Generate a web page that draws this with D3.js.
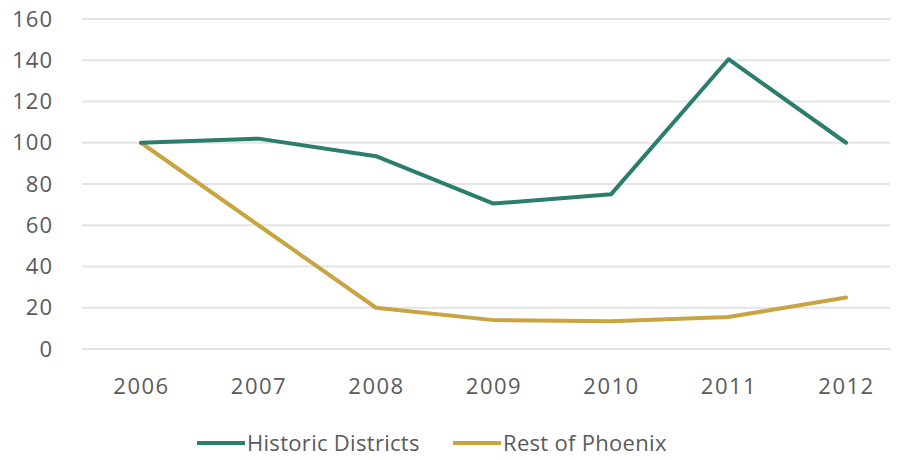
<!DOCTYPE html>
<html>
<head>
<meta charset="utf-8">
<script src="https://cdn.jsdelivr.net/npm/d3@7"></script>
<style>
  html, body { margin: 0; padding: 0; background: #fff; }
  svg { display: block; font-family: "Open Sans", sans-serif; }
</style>
</head>
<body>
<svg id="chart" width="900" height="460"></svg>
<script>
// Years along the x axis
const years = ["2006", "2007", "2008", "2009", "2010", "2011", "2012"];
// Indexed values (2006 = 100)
const historicDistricts = [100, 102, 93.5, 70.5, 75, 140.5, 100];
const restOfPhoenix = [100, 60, 20, 14, 13.5, 15.5, 25];
// Y axis ticks
const yTicks = [0, 20, 40, 60, 80, 100, 120, 140, 160];

const seriesNames = ["Historic Districts", "Rest of Phoenix"];
const seriesColors = ["#2b7d6e", "#c9a443"];

const labelFont = "'Open Sans', sans-serif";
const labelColor = "#5a5a5a";

const svg = d3.select("#chart");

const x = d3.scalePoint().domain(years).range([141, 846]);
const y = d3.scaleLinear().domain([0, 160]).range([349, 19]);

// Horizontal gridlines
svg.append("g")
  .selectAll("line")
  .data(yTicks)
  .join("line")
  .attr("x1", 82).attr("x2", 890)
  .attr("y1", d => y(d)).attr("y2", d => y(d))
  .attr("stroke", "#e4e4e4")
  .attr("stroke-width", 2);

// Y axis labels
const yAxis = d3.axisLeft(y).tickValues(yTicks).tickSize(0).tickPadding(0);
svg.append("g")
  .attr("transform", "translate(53,0)")
  .call(yAxis)
  .call(g => g.select(".domain").remove())
  .call(g => g.selectAll("text")
    .attr("fill", labelColor)
    .attr("font-size", 22)
    .attr("letter-spacing", 1)
    .attr("font-family", labelFont));

// X axis labels
const xAxis = d3.axisBottom(x).tickSize(0).tickPadding(0);
svg.append("g")
  .attr("transform", "translate(0,378)")
  .call(xAxis)
  .call(g => g.select(".domain").remove())
  .call(g => g.selectAll("text")
    .attr("fill", labelColor)
    .attr("font-size", 22)
    .attr("letter-spacing", 1.5)
    .attr("font-family", labelFont));

const line = d3.line()
  .x((d, i) => x(years[i]))
  .y(d => y(d));

// Draw the rest-of-city series first so the historic line sits on top
[restOfPhoenix, historicDistricts].forEach((vals, k) => {
  const color = k === 0 ? seriesColors[1] : seriesColors[0];
  svg.append("path")
    .datum(vals)
    .attr("fill", "none")
    .attr("stroke", color)
    .attr("stroke-width", 4)
    .attr("stroke-linejoin", "round")
    .attr("stroke-linecap", "round")
    .attr("d", line);
});

// Legend
const legend = svg.append("g").attr("transform", "translate(0,443)");
const legendX = [197, 453];
seriesNames.forEach((name, i) => {
  const g = legend.append("g").attr("transform", `translate(${legendX[i]},0)`);
  g.append("line")
    .attr("x1", 0).attr("x2", 48)
    .attr("y1", 0).attr("y2", 0)
    .attr("stroke", seriesColors[i])
    .attr("stroke-width", 4);
  g.append("text")
    .attr("x", 50)
    .attr("y", 0)
    .attr("dy", "0.35em")
    .attr("fill", labelColor)
    .attr("font-size", 22)
    .attr("letter-spacing", 0.3)
    .attr("font-family", labelFont)
    .text(name);
});
</script>
</body>
</html>
